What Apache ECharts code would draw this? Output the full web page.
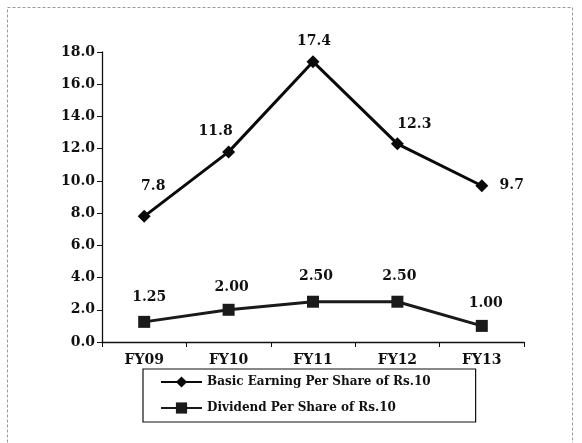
<!DOCTYPE html>
<html>
<head>
<meta charset="utf-8">
<script src="https://cdn.jsdelivr.net/npm/echarts@6/dist/echarts.min.js"></script>
<style>
html,body{margin:0;padding:0;background:#fff;}
#chart{width:582px;height:443px;}
</style>
</head>
<body>
<div id="chart"></div>
<script>
const categories = ['FY09', 'FY10', 'FY11', 'FY12', 'FY13'];
const epsValues = [7.8, 11.8, 17.4, 12.3, 9.7];
const dividendValues = [1.25, 2.00, 2.50, 2.50, 1.00];
const epsName = 'Basic Earning Per Share of Rs.10';
const dividendName = 'Dividend Per Share of Rs.10';

const FONT = '"DejaVu Serif", "Liberation Serif", serif';

// label placement (styling only)
const epsLabelOffsets = [[9, -30], [-13, -21], [1, -20], [17, -19], [30, 0]];
const divLabelOffsets = [[5, -25], [3, -22], [3, -25], [2, -25], [4, -23]];

function withLabels(values, offsets, digits) {
  return values.map((v, i) => ({
    value: v,
    label: { offset: offsets[i], formatter: () => v.toFixed(digits) }
  }));
}

const chart = echarts.init(document.getElementById('chart'), null, { renderer: 'canvas' });

const labelStyle = {
  show: true,
  position: 'inside',
  color: '#111',
  fontFamily: FONT,
  fontWeight: 'bold',
  fontSize: 14
};

chart.setOption({
  backgroundColor: '#fff',
  animation: false,
  graphic: [{
    type: 'rect',
    shape: { x: 7.5, y: 7.5, width: 565, height: 440 },
    style: { fill: 'none', stroke: '#9a9a9a', lineWidth: 1, lineDash: [3, 2] },
    silent: true
  }],
  grid: { left: 102, right: 58, top: 52, bottom: 101, containLabel: false },
  legend: {
    orient: 'vertical',
    left: 143,
    top: 369,
    padding: [6, 45, 7, 17],
    itemWidth: 41,
    itemHeight: 14,
    itemGap: 12,
    borderColor: '#111',
    borderWidth: 1.2,
    borderRadius: 0,
    textStyle: { fontFamily: FONT, fontWeight: 'bold', fontSize: 12, color: '#111', lineHeight: 14 },
    data: [epsName, dividendName]
  },
  xAxis: {
    type: 'category',
    data: categories,
    boundaryGap: true,
    axisLine: { lineStyle: { color: '#111', width: 1.3 } },
    axisTick: { show: true, inside: false, length: 5, lineStyle: { color: '#111' } },
    axisLabel: { color: '#111', fontFamily: FONT, fontWeight: 'bold', fontSize: 14, margin: 11 },
    splitLine: { show: false }
  },
  yAxis: {
    type: 'value',
    min: 0,
    max: 18,
    interval: 2,
    axisLine: { show: true, lineStyle: { color: '#111', width: 1.3 } },
    axisTick: { show: true, inside: false, length: 5, lineStyle: { color: '#111' } },
    axisLabel: {
      color: '#111', fontFamily: FONT, fontWeight: 'bold', fontSize: 14, margin: 7,
      formatter: v => v.toFixed(1)
    },
    splitLine: { show: false }
  },
  series: [
    {
      name: epsName,
      type: 'line',
      data: withLabels(epsValues, epsLabelOffsets, 1),
      symbol: 'diamond',
      symbolSize: 13,
      lineStyle: { color: '#0a0a0a', width: 3 },
      itemStyle: { color: '#0a0a0a' },
      label: labelStyle
    },
    {
      name: dividendName,
      type: 'line',
      data: withLabels(dividendValues, divLabelOffsets, 2),
      symbol: 'rect',
      symbolSize: 12,
      lineStyle: { color: '#1a1a1a', width: 3 },
      itemStyle: { color: '#1a1a1a' },
      label: labelStyle
    }
  ]
});
</script>
</body>
</html>
